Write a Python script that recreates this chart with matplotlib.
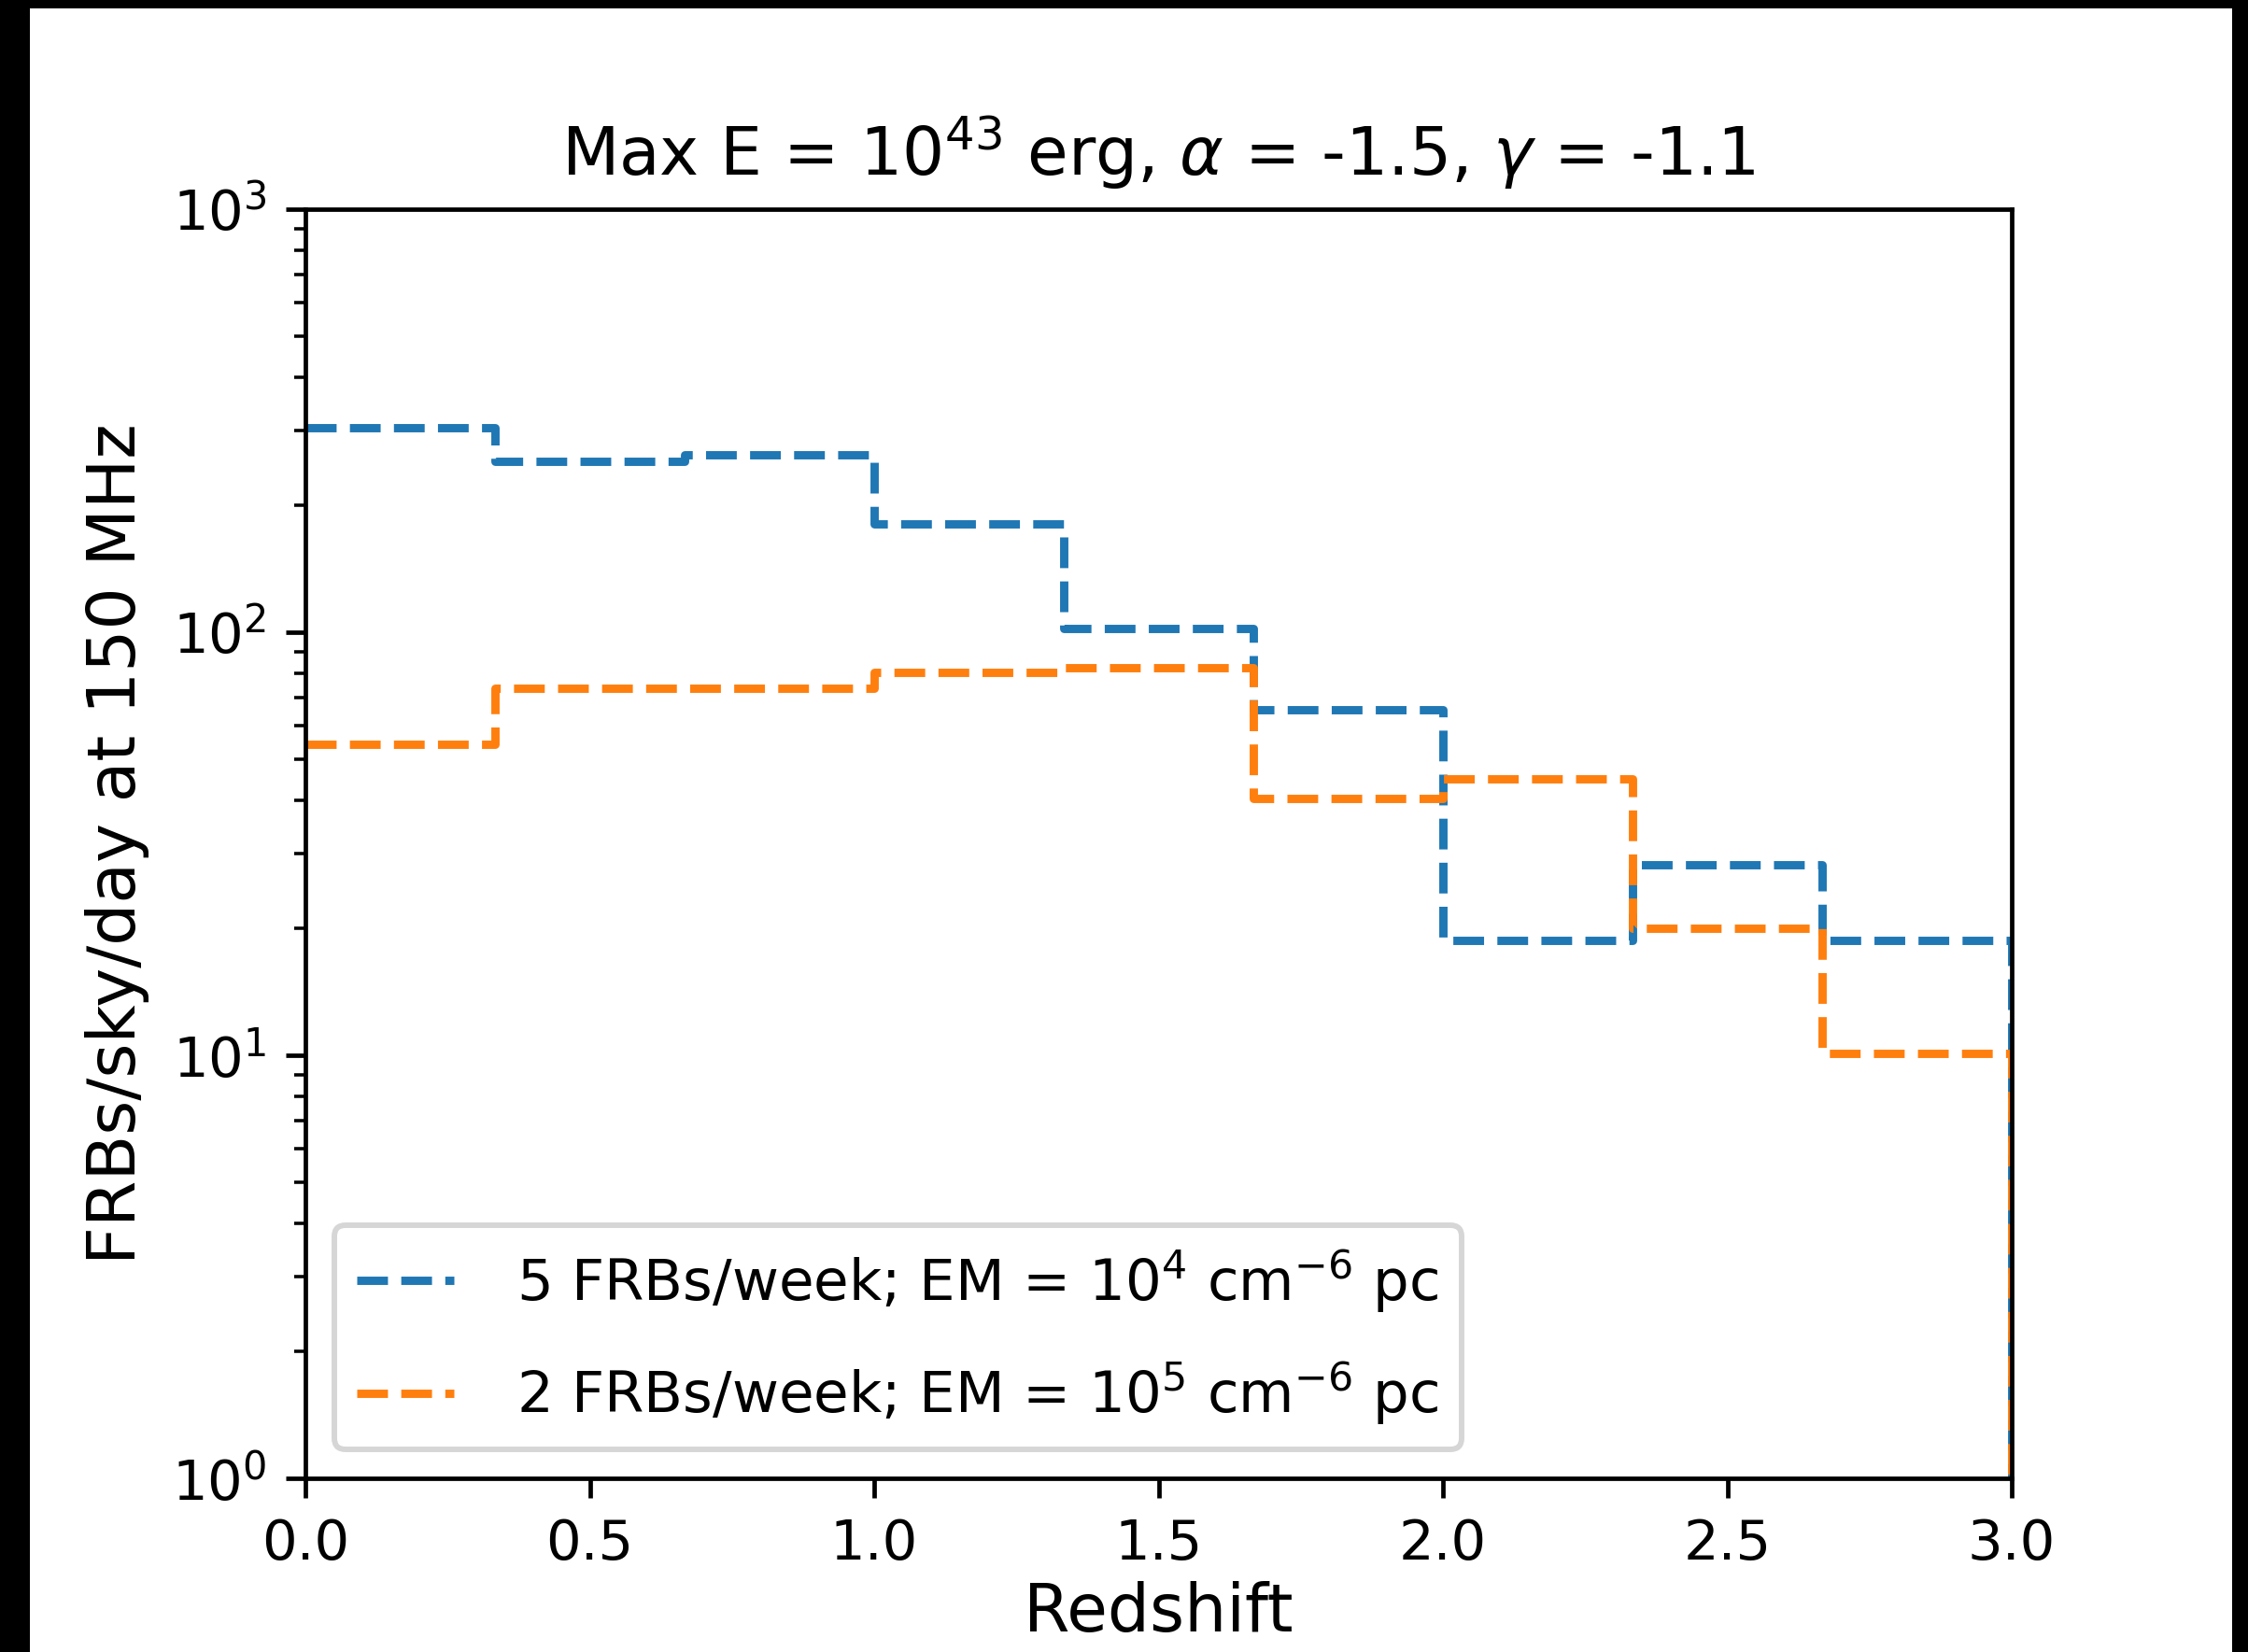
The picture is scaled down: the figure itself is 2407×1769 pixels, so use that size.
import numpy as np
import matplotlib.pyplot as plt
from matplotlib.patches import Rectangle

# redshift bins (9 bins of width 1/3 between z=0 and z=3)
z_edges = np.linspace(0, 3, 10)

# FRB rates per bin
rate_em4 = [305, 253, 263, 180, 102, 65.6, 18.7, 28.2, 18.7]  # 5 FRBs/week, EM = 1e4
rate_em5 = [54.4, 73.8, 73.8, 80.4, 82.3, 40.4, 45.1, 20.0, 10.1]  # 2 FRBs/week, EM = 1e5

labels = [r'5 FRBs/week; EM = $10^4$ cm$^{-6}$ pc',
          r'2 FRBs/week; EM = $10^5$ cm$^{-6}$ pc']
ymin, ymax = 1, 1000


def step_outline(edges, vals, base):
    # histogram outline: no left wall, right wall drops to the baseline
    xs = np.repeat(edges, 2)[1:]
    ys = np.append(np.repeat(vals, 2), base)
    return xs, ys


W, H, dpi = 2407, 1769, 427
fig = plt.figure(figsize=(W / dpi, H / dpi), dpi=dpi, facecolor='black')
# white page inside the black screenshot frame
fig.add_artist(Rectangle((32 / W, 0), (2390 - 32) / W, 1 - 9 / H,
                         transform=fig.transFigure, facecolor='white',
                         edgecolor='none', zorder=-10))

ax = fig.add_axes([327 / W, 1 - 1583 / H, (2154 - 327) / W, (1583 - 224) / H])

for vals, col, lab in [(rate_em4, 'C0', labels[0]), (rate_em5, 'C1', labels[1])]:
    xs, ys = step_outline(z_edges, vals, ymin)
    ax.plot(xs, ys, linestyle='--', linewidth=1.5, color=col, label=lab)

ax.set_yscale('log')
ax.set_ylim(ymin, ymax)
ax.set_xlim(0, 3)
ax.set_xticks(np.arange(0, 3.01, 0.5))

ax.set_xlabel('Redshift', fontsize=12, labelpad=2)
ax.set_ylabel('FRBs/sky/day at 150 MHz', fontsize=12)
ax.set_title(r'Max E = $10^{43}$ erg, $\alpha$ = -1.5, $\gamma$ = -1.1', fontsize=12)

ax.legend(loc='lower left', fontsize=10.3, handlelength=1.7, handletextpad=1.1,
          labelspacing=0.8, borderpad=0.4)

fig.savefig('out.png', dpi=dpi, facecolor=fig.get_facecolor())
